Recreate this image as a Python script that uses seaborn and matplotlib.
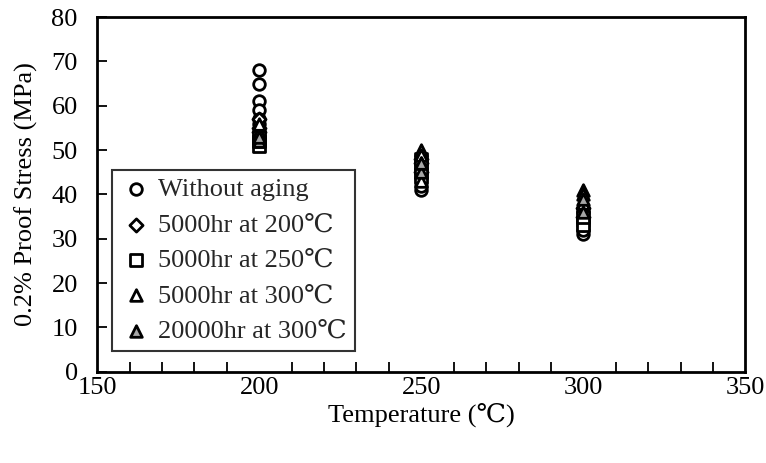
import matplotlib
matplotlib.use("Agg")
import matplotlib.pyplot as plt
import seaborn as sns
import pandas as pd
from matplotlib.ticker import MultipleLocator

sns.set_theme(style="white")
plt.rcParams['font.family'] = ['Liberation Serif', 'DejaVu Serif']

labels = ["Without aging", "5000hr at 200\u2103", "5000hr at 250\u2103",
          "5000hr at 300\u2103", "20000hr at 300\u2103"]

# (temperature, stress) per series
without_t = [200, 200, 200, 200, 200, 200, 250, 250, 250, 250, 250, 300, 300, 300, 300, 300, 300]
without_s = [68, 65, 61, 59, 57, 56, 41, 42, 44, 46, 47, 31, 32, 33, 34, 36, 37]
a200_t = [200, 200, 200, 250, 250, 250, 300, 300]
a200_s = [57, 55, 54, 45, 47, 48, 35, 37]
a250_t = [200, 200, 200, 250, 250, 250, 300, 300]
a250_s = [51, 52, 53, 44, 46, 48, 33, 35]
a300_t = [200, 200, 200, 250, 250, 250, 250, 300, 300, 300]
a300_s = [53, 54, 56, 50, 49, 47, 43, 41, 40, 38]
b300_t = [200, 200, 250, 250, 300, 300]
b300_s = [52, 53, 45, 47, 36, 39]

series = [
    (labels[0], without_t, without_s, 'o', 'white'),
    (labels[1], a200_t, a200_s, 'D', 'white'),
    (labels[2], a250_t, a250_s, 's', 'white'),
    (labels[3], a300_t, a300_s, '^', 'white'),
    (labels[4], b300_t, b300_s, '^', '#a6a6a6'),
]

FS = 19
fig = plt.figure(figsize=(7.66, 4.63), dpi=100)
ax = fig.add_axes([0.127, 0.197, 0.846, 0.766])

handles = []
for name, t, s, m, fc in series:
    df = pd.DataFrame({"Temperature": t, "Stress": s})
    size = 70 if m != 'D' else 45
    sns.scatterplot(data=df, x="Temperature", y="Stress", marker=m, s=size,
                    color=fc, edgecolor='black', linewidth=2, ax=ax,
                    zorder=3, legend=False)
    h = ax.scatter([], [], marker=m, s=size, facecolor=fc, edgecolor='black',
                   linewidth=2, label=name)
    handles.append(h)

ax.set_xlim(150, 350)
ax.set_ylim(0, 80)
ax.xaxis.set_major_locator(MultipleLocator(50))
ax.xaxis.set_minor_locator(MultipleLocator(10))
ax.yaxis.set_major_locator(MultipleLocator(10))
ax.tick_params(axis='both', which='both', direction='in', labelsize=FS,
               colors='black', width=1.3)
ax.tick_params(axis='x', which='major', length=0, pad=4)
ax.tick_params(axis='x', which='minor', length=7, bottom=True)
ax.tick_params(axis='y', which='major', length=7, left=True, pad=14)
for sp in ax.spines.values():
    sp.set_color('black')
    sp.set_linewidth(2)
ax.set_xlabel("Temperature (\u2103)", fontsize=FS, color='black', labelpad=2)
ax.set_ylabel("0.2% Proof Stress (MPa)", fontsize=FS, color='black', labelpad=10)

leg = ax.legend(handles=handles, loc='lower left', bbox_to_anchor=(0.023, 0.06),
                fontsize=FS, frameon=True, fancybox=False, edgecolor='black',
                handletextpad=0.25, borderpad=0.3, labelspacing=0.45,
                handlelength=1.2, borderaxespad=0)
leg.get_frame().set_linewidth(1.5)

fig.savefig("out.png", dpi=100, facecolor='white')
